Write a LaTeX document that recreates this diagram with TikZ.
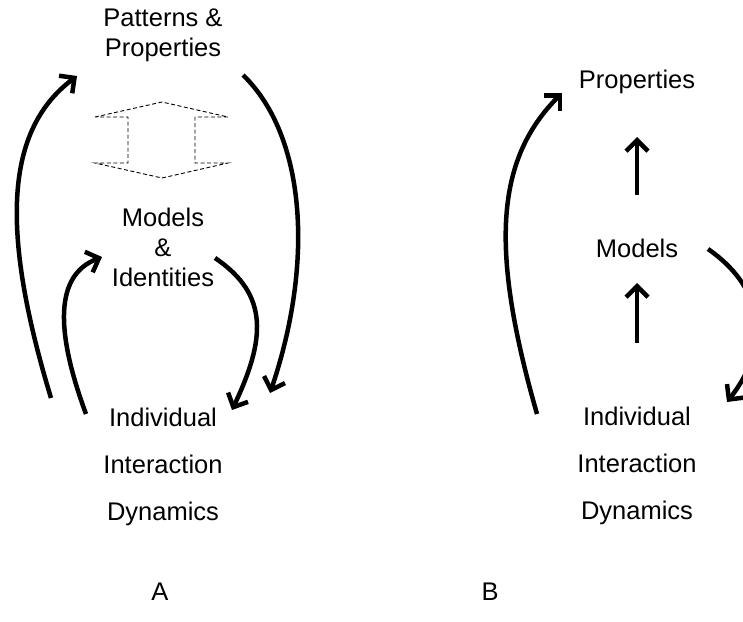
\documentclass[tikz,border=0pt]{standalone}
\usepackage{fontspec}
\setmainfont{Liberation Sans}
\usetikzlibrary{arrows.meta}
\tikzset{
  lbl/.style={inner sep=0pt, align=center, font=\fontsize{25.5}{30}\selectfont},
  lblwide/.style={inner sep=0pt, align=center, font=\fontsize{25.5}{47}\selectfont},
  flow/.style={line width=4.5pt, -{Straight Barb[length=11pt,width=22pt]}},
  hollow/.style={line width=0.9pt, draw=black, dash pattern=on 4pt off 2.5pt},
}
\begin{document}
\begin{tikzpicture}[x=1pt,y=-1pt]
\useasboundingbox (0,0) rectangle (743,621);
\clip (0,0) rectangle (743,621);
% ---------- A ----------
\node[lbl] (ppA) at (163,35) {Patterns \&\\Properties};
\node[lbl] (miA) at (163,247) {Models\\\&\\Identities};
\node[lblwide] (iidA) at (163,467) {Individual\\Interaction\\Dynamics};
\node[lbl] (labA) at (160,592) {A};
% double arrow (dashed)
\draw[hollow] (95,117) -- (162,102) -- (228,117) -- (195,117) -- (195,163) -- (228,163)
  -- (162,178) -- (95,163) -- (128,163) -- (128,117) -- cycle;
% connectors
\coordinate (a1s) at (51,398);
\coordinate (a1e) at (77,76);
\coordinate (a2s) at (86,414);
\coordinate (a2e) at (102,257);
\coordinate (a3s) at (215,258);
\coordinate (a3e) at (232,410);
\coordinate (a4s) at (243,75);
\coordinate (a4e) at (270,393);
\draw[flow] (a1s) .. controls (0,230) and (5,130) .. (a1e);
\draw[flow] (a2s) .. controls (55,330) and (55,275) .. (a2e);
\draw[flow] (a3s) .. controls (270,295) and (265,340) .. (a3e);
\draw[flow] (a4s) .. controls (305,135) and (315,260) .. (a4e);
% ---------- B ----------
\node[lbl] (pB) at (637,82) {Properties};
\node[lbl] (mB) at (637,248) {Models};
\node[lblwide] (iidB) at (637,466) {Individual\\Interaction\\Dynamics};
\node[lbl] (labB) at (490,592) {B};
\coordinate (b1s) at (637,195);
\coordinate (b1e) at (637,137);
\coordinate (b2s) at (637,343);
\coordinate (b2e) at (637,283);
\draw[flow] (b1s) -- (b1e);
\draw[flow] (b2s) -- (b2e);
\coordinate (b3s) at (537,414);
\coordinate (b3e) at (562,93);
\coordinate (b4s) at (708,249);
\coordinate (b4e) at (727,402);
\draw[flow] (b3s) .. controls (490,250) and (495,160) .. (b3e);
\draw[flow] (b4s) .. controls (760,285) and (775,340) .. (b4e);
\end{tikzpicture}
\end{document}
